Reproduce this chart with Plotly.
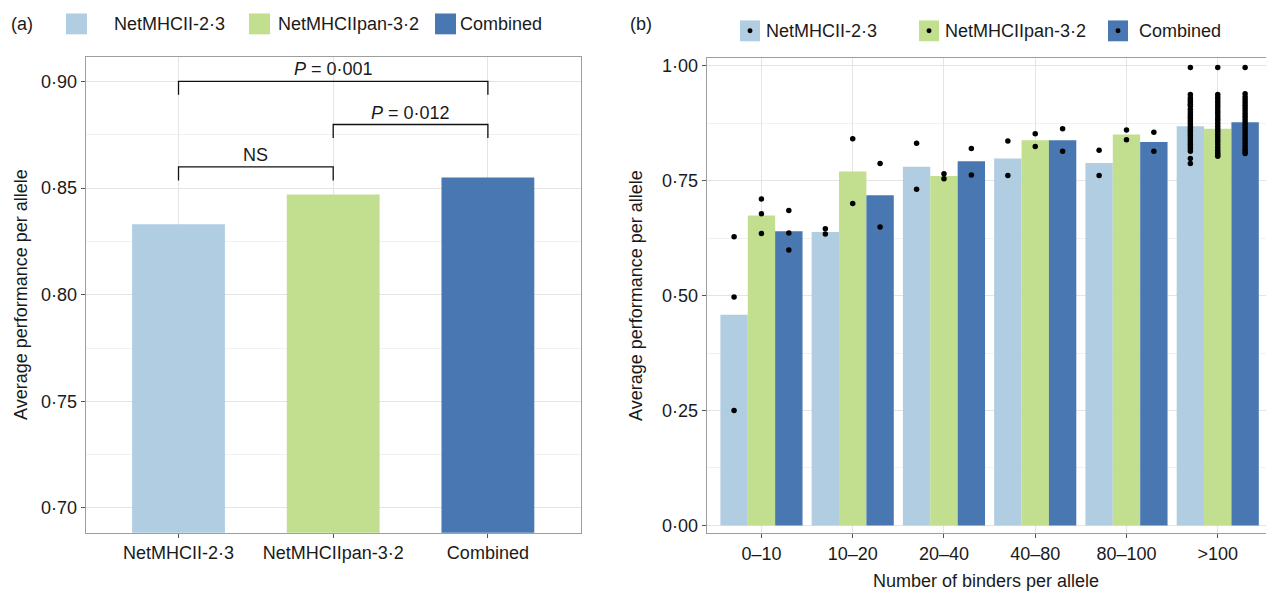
import plotly.graph_objects as go

# The page body has an 8 px margin, so the figure is drawn 8 px in from the
# top-left corner of the window; pixel targets below are in window pixels.
OFF = 8
W, H = 1274 - OFF, 596 - OFF

# ---------------- data ----------------
methods = ["NetMHCII-2·3", "NetMHCIIpan-3·2", "Combined"]
colors = ["#B0CDE2", "#C1DF8F", "#4877B2"]

# panel (a): overall average performance per allele
overall = [0.833, 0.847, 0.855]
ticks_a = [0.70, 0.75, 0.80, 0.85, 0.90]
# significance comparisons: (from index, to index, bracket height, label)
comp_from = [0, 1, 0]
comp_to = [2, 2, 1]
comp_y = [0.900, 0.8798, 0.8599]
comp_label = ["<i>P</i> = 0·001", "<i>P</i> = 0·012", "NS"]

# panel (b): by number of binders per allele
bins = ["0–10", "10–20", "20–40", "40–80", "80–100", ">100"]
ticks_b = [0.00, 0.25, 0.50, 0.75, 1.00]
bar_netmhcii = [0.458, 0.638, 0.780, 0.798, 0.788, 0.868]
bar_pan = [0.674, 0.770, 0.760, 0.838, 0.850, 0.863]
bar_comb = [0.640, 0.718, 0.792, 0.838, 0.834, 0.877]

pts_netmhcii = [
    [0.628, 0.497, 0.250],
    [0.645, 0.634],
    [0.831, 0.731],
    [0.836, 0.761],
    [0.816, 0.761],
    [0.996, 0.937, 0.930, 0.925, 0.921, 0.916, 0.912, 0.905, 0.899, 0.894,
     0.889, 0.885, 0.880, 0.876, 0.871, 0.866, 0.861, 0.857, 0.852, 0.848,
     0.843, 0.839, 0.834, 0.829, 0.824, 0.819, 0.814, 0.798, 0.787],
]
pts_pan = [
    [0.710, 0.678, 0.635],
    [0.841, 0.700],
    [0.765, 0.754],
    [0.852, 0.824],
    [0.860, 0.839],
    [0.996, 0.937, 0.931, 0.925, 0.920, 0.914, 0.908, 0.902, 0.897, 0.891,
     0.885, 0.880, 0.874, 0.868, 0.862, 0.857, 0.851, 0.845, 0.839, 0.834,
     0.828, 0.822, 0.816, 0.811, 0.807, 0.803],
]
pts_comb = [
    [0.685, 0.636, 0.599],
    [0.787, 0.649],
    [0.820, 0.762],
    [0.863, 0.814],
    [0.855, 0.814],
    [0.996, 0.939, 0.932, 0.926, 0.920, 0.914, 0.908, 0.902, 0.896, 0.890,
     0.884, 0.878, 0.872, 0.866, 0.860, 0.854, 0.848, 0.842, 0.836, 0.830,
     0.824, 0.818, 0.813, 0.809],
]

bars_b = [bar_netmhcii, bar_pan, bar_comb]
pts_b = [pts_netmhcii, pts_pan, pts_comb]

# ---------------- style ----------------
FONT = "Liberation Sans, Arial, Helvetica, sans-serif"
TXT = "#1A1A1A"
BORDER = "#9E9E9E"
GRID = "#E4E4E4"
MINOR = "#F1F1F1"
DODGE = 0.9  # total dodge width of a group in panel (b)


def fx(px):
    return (px - OFF) / W


def fy(py):
    return 1 - (py - OFF) / H


def dot(v):
    return f"{v:.2f}".replace(".", "·")


fig = go.Figure()

# panel (a) bars
fig.add_trace(go.Bar(
    x=methods, y=overall, width=0.6, marker=dict(color=colors, line=dict(width=0)),
    xaxis="x", yaxis="y", showlegend=False,
))

# panel (a) significance brackets
drop = 0.0063
for a, b, yv, lab in zip(comp_from, comp_to, comp_y, comp_label):
    fig.add_trace(go.Scatter(
        x=[methods[a], methods[a], methods[b], methods[b]],
        y=[yv - drop, yv, yv, yv - drop],
        mode="lines", line=dict(color="#111111", width=1.3),
        xaxis="x", yaxis="y", showlegend=False, hoverinfo="skip",
    ))
    fig.add_annotation(
        x=(a + b) / 2, y=yv, xref="x", yref="y", text=lab, showarrow=False,
        yanchor="bottom", yshift=0, font=dict(family=FONT, size=18, color=TXT),
    )

# panel (b) bars
xs = list(range(len(bins)))
for j in range(3):
    fig.add_trace(go.Bar(
        x=xs, y=bars_b[j], name=methods[j],
        marker=dict(color=colors[j], line=dict(width=0)),
        xaxis="x2", yaxis="y2", showlegend=False,
    ))

# panel (b) points at the dodged bar centres
for j in range(3):
    off = (j - 1) * DODGE / 3
    px_, py_ = [], []
    for i, vals in enumerate(pts_b[j]):
        for v in vals:
            px_.append(i + off)
            py_.append(v)
    fig.add_trace(go.Scatter(
        x=px_, y=py_, mode="markers",
        marker=dict(color="black", size=5.5),
        xaxis="x2", yaxis="y2", showlegend=False, hoverinfo="skip",
    ))

axis_common = dict(
    showline=True, mirror=True, linecolor=BORDER, linewidth=1,
    ticks="outside", ticklen=4, tickcolor="#555555", tickwidth=1,
    tickfont=dict(family=FONT, size=18, color=TXT),
    showgrid=True, gridcolor=GRID, gridwidth=1, zeroline=False,
)

fig.update_layout(
    width=W, height=H,
    margin=dict(l=0, r=0, t=0, b=0),
    paper_bgcolor="white", plot_bgcolor="white",
    barmode="group", bargap=1 - DODGE, bargroupgap=0,
    font=dict(family=FONT, size=18, color=TXT),
    xaxis=dict(
        domain=[fx(85.7), fx(580.7)], anchor="y", type="category",
        range=[-0.6, 2.6], **axis_common,
    ),
    yaxis=dict(
        domain=[fy(534.3), fy(55)], anchor="x", range=[0.6884, 0.9116],
        tickvals=ticks_a, ticktext=[dot(v) for v in ticks_a],
        minor=dict(tickmode="linear", tick0=0.725, dtick=0.05, showgrid=True,
                   gridcolor=MINOR, gridwidth=1, ticks=""),
        **axis_common,
    ),
    xaxis2=dict(
        domain=[fx(706.7), fx(1272.5)], anchor="y2", range=[-0.6, 5.6],
        tickvals=xs, ticktext=bins, **axis_common,
    ),
    yaxis2=dict(
        domain=[fy(535), fy(56.7)], anchor="x2", range=[-0.0173, 1.0158],
        tickvals=ticks_b, ticktext=[dot(v) for v in ticks_b],
        minor=dict(tickmode="linear", tick0=0.125, dtick=0.25, showgrid=True,
                   gridcolor=MINOR, gridwidth=1, ticks=""),
        **axis_common,
    ),
)

# axis titles
fig.add_annotation(x=fx(21), y=fy(295), xref="paper", yref="paper",
                   text="Average performance per allele", textangle=-90,
                   showarrow=False, xanchor="center", yanchor="middle",
                   font=dict(family=FONT, size=18, color=TXT))
fig.add_annotation(x=fx(636), y=fy(296), xref="paper", yref="paper",
                   text="Average performance per allele", textangle=-90,
                   showarrow=False, xanchor="center", yanchor="middle",
                   font=dict(family=FONT, size=18, color=TXT))
fig.add_annotation(x=fx(986), y=fy(583), xref="paper", yref="paper",
                   text="Number of binders per allele",
                   showarrow=False, xanchor="center", yanchor="middle",
                   font=dict(family=FONT, size=18, color=TXT))

# panel labels
fig.add_annotation(x=fx(9), y=fy(22), xref="paper", yref="paper", text="(a)",
                   showarrow=False, xanchor="left", yanchor="middle",
                   font=dict(family=FONT, size=18, color=TXT))
fig.add_annotation(x=fx(628), y=fy(22), xref="paper", yref="paper", text="(b)",
                   showarrow=False, xanchor="left", yanchor="middle",
                   font=dict(family=FONT, size=18, color=TXT))

# legends (drawn manually, ggplot style)
leg_a_key = [66, 249, 435]
leg_a_txt = [112, 276, 458]
leg_b_key = [740, 919, 1108]
leg_b_txt = [764, 943, 1137]
KEY = 21
for j in range(3):
    # panel (a) legend
    k, t, cy = leg_a_key[j], leg_a_txt[j], 22
    fig.add_shape(type="rect", xref="paper", yref="paper",
                  x0=fx(k), x1=fx(k + KEY), y0=fy(cy + KEY / 2), y1=fy(cy - KEY / 2),
                  fillcolor=colors[j], line=dict(width=0))
    fig.add_annotation(x=fx(t), y=fy(cy), xref="paper", yref="paper", text=methods[j],
                       showarrow=False, xanchor="left", yanchor="middle",
                       font=dict(family=FONT, size=18, color=TXT))
    # panel (b) legend
    k, t, cy = leg_b_key[j], leg_b_txt[j], 29
    fig.add_shape(type="rect", xref="paper", yref="paper",
                  x0=fx(k), x1=fx(k + KEY - 1), y0=fy(cy + KEY / 2), y1=fy(cy - KEY / 2),
                  fillcolor=colors[j], line=dict(width=0))
    fig.add_shape(type="circle", xref="paper", yref="paper",
                  x0=fx(k + (KEY - 1) / 2 - 2.5), x1=fx(k + (KEY - 1) / 2 + 2.5),
                  y0=fy(cy + 2.5), y1=fy(cy - 2.5),
                  fillcolor="black", line=dict(width=0))
    fig.add_annotation(x=fx(t), y=fy(cy), xref="paper", yref="paper", text=methods[j],
                       showarrow=False, xanchor="left", yanchor="middle",
                       font=dict(family=FONT, size=18, color=TXT))

fig.write_html("out.html")
